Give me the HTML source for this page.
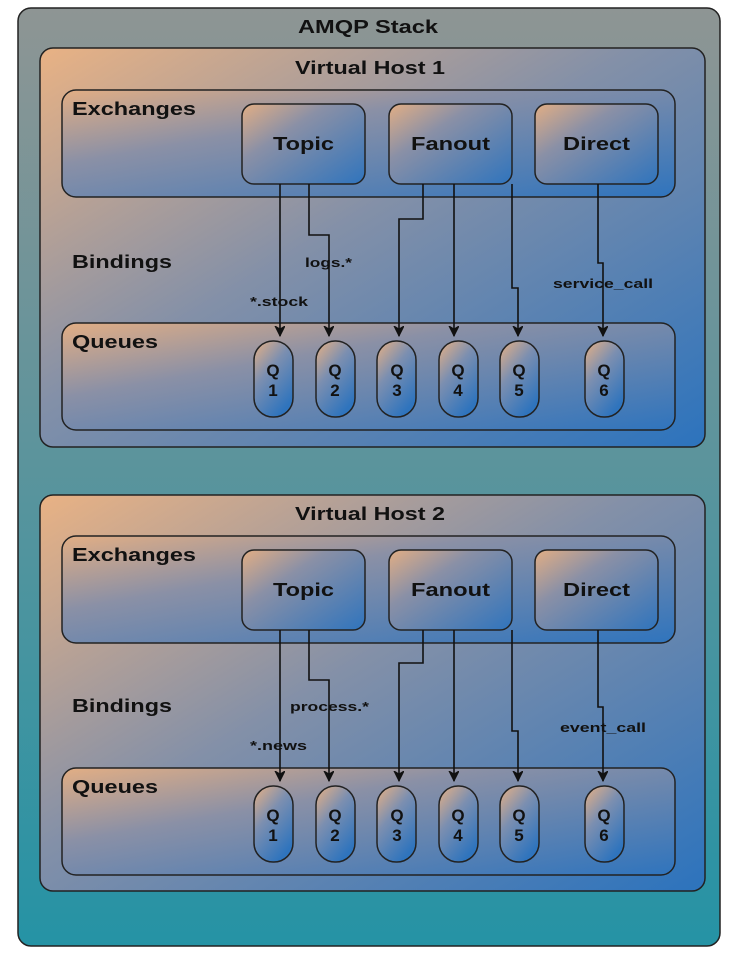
<!DOCTYPE html>
<html><head><meta charset="utf-8"><style>
html,body{margin:0;padding:0;background:#fff;}
svg{display:block;}
text{font-family:"Liberation Sans",Arial,sans-serif;font-weight:bold;fill:#111;}
</style></head><body>
<svg width="732" height="960" viewBox="0 0 732 960" xmlns="http://www.w3.org/2000/svg">
<defs>
<linearGradient id="outer" x1="0" y1="0" x2="0" y2="1">
<stop offset="0" stop-color="#8e9594"/><stop offset="1" stop-color="#2593a5"/>
</linearGradient>
<linearGradient id="vh" x1="0" y1="0" x2="1" y2="1">
<stop offset="0" stop-color="#e9b284"/><stop offset="0.45" stop-color="#8390a8"/><stop offset="1" stop-color="#2c73bd"/>
</linearGradient>
<linearGradient id="box" x1="0" y1="0" x2="1" y2="1">
<stop offset="0" stop-color="#e2ae84"/><stop offset="0.35" stop-color="#8a90a6"/><stop offset="1" stop-color="#2f74bd"/>
</linearGradient>
<linearGradient id="q" x1="0" y1="0" x2="0.6" y2="1">
<stop offset="0" stop-color="#e8b184"/><stop offset="0.45" stop-color="#7c8fb0"/><stop offset="1" stop-color="#2f74bd"/>
</linearGradient>
<marker id="ar" markerWidth="12" markerHeight="12" refX="10" refY="5" orient="auto" markerUnits="userSpaceOnUse">
<path d="M0,0 L10,5 L0,10 L3,5 Z" fill="#111" stroke="#111" stroke-width="1"/>
</marker>
</defs>
<rect x="18" y="8" width="702" height="938" rx="13" fill="url(#outer)" stroke="#222" stroke-width="1.5"/>
<text x="298" y="33" font-size="18" textLength="140" lengthAdjust="spacingAndGlyphs">AMQP Stack</text>

<g>
<rect x="40" y="48" width="665" height="399" rx="13" fill="url(#vh)" stroke="#222" stroke-width="1.5"/>
<text x="295" y="74" font-size="18" textLength="150" lengthAdjust="spacingAndGlyphs">Virtual Host 1</text>
<rect x="62" y="90" width="613" height="107" rx="14" fill="url(#box)" stroke="#222" stroke-width="1.5"/>
<text x="72" y="115" font-size="18" textLength="124" lengthAdjust="spacingAndGlyphs">Exchanges</text>
<rect x="242" y="104" width="123" height="80" rx="12" fill="url(#box)" stroke="#222" stroke-width="1.5"/>
<rect x="389" y="104" width="123" height="80" rx="12" fill="url(#box)" stroke="#222" stroke-width="1.5"/>
<rect x="535" y="104" width="123" height="80" rx="12" fill="url(#box)" stroke="#222" stroke-width="1.5"/>
<text x="273" y="150" font-size="18" textLength="61" lengthAdjust="spacingAndGlyphs">Topic</text>
<text x="411" y="150" font-size="18" textLength="79" lengthAdjust="spacingAndGlyphs">Fanout</text>
<text x="563" y="150" font-size="18" textLength="67" lengthAdjust="spacingAndGlyphs">Direct</text>
<text x="72" y="268" font-size="18" textLength="100" lengthAdjust="spacingAndGlyphs">Bindings</text>
<rect x="62" y="323" width="613" height="107" rx="14" fill="url(#box)" stroke="#222" stroke-width="1.5"/>
<text x="72" y="348" font-size="18" textLength="86" lengthAdjust="spacingAndGlyphs">Queues</text>
<g stroke="#222" stroke-width="1.5" fill="url(#q)">
<rect x="254" y="341" width="39" height="76" rx="19"/>
<rect x="316" y="341" width="39" height="76" rx="19"/>
<rect x="377" y="341" width="39" height="76" rx="19"/>
<rect x="439" y="341" width="39" height="76" rx="19"/>
<rect x="500" y="341" width="39" height="76" rx="19"/>
<rect x="585" y="341" width="39" height="76" rx="19"/>
</g>
<g font-size="17" text-anchor="middle">
<text x="273" y="376">Q</text><text x="273" y="396">1</text>
<text x="335" y="376">Q</text><text x="335" y="396">2</text>
<text x="397" y="376">Q</text><text x="397" y="396">3</text>
<text x="458" y="376">Q</text><text x="458" y="396">4</text>
<text x="519" y="376">Q</text><text x="519" y="396">5</text>
<text x="604" y="376">Q</text><text x="604" y="396">6</text>
</g>
<g fill="none" stroke="#111" stroke-width="1.6" marker-end="url(#ar)">
<path d="M280,184 V336"/>
<path d="M309,184 V235 H329 V336"/>
<path d="M423,184 V219 H399 V336"/>
<path d="M454,184 V336"/>
<path d="M512,184 V288 H518 V336"/>
<path d="M598,184 V263 H603 V336"/>
</g>
<g font-size="13">
<text x="250" y="306" textLength="58" lengthAdjust="spacingAndGlyphs">*.stock</text>
<text x="305" y="267" textLength="47" lengthAdjust="spacingAndGlyphs">logs.*</text>
<text x="553" y="288" textLength="100" lengthAdjust="spacingAndGlyphs">service_call</text>
</g>
</g>

<g transform="translate(0,446)">
<rect x="40" y="49" width="665" height="396" rx="13" fill="url(#vh)" stroke="#222" stroke-width="1.5"/>
<text x="295" y="74" font-size="18" textLength="150" lengthAdjust="spacingAndGlyphs">Virtual Host 2</text>
<rect x="62" y="90" width="613" height="107" rx="14" fill="url(#box)" stroke="#222" stroke-width="1.5"/>
<text x="72" y="115" font-size="18" textLength="124" lengthAdjust="spacingAndGlyphs">Exchanges</text>
<rect x="242" y="104" width="123" height="80" rx="12" fill="url(#box)" stroke="#222" stroke-width="1.5"/>
<rect x="389" y="104" width="123" height="80" rx="12" fill="url(#box)" stroke="#222" stroke-width="1.5"/>
<rect x="535" y="104" width="123" height="80" rx="12" fill="url(#box)" stroke="#222" stroke-width="1.5"/>
<text x="273" y="150" font-size="18" textLength="61" lengthAdjust="spacingAndGlyphs">Topic</text>
<text x="411" y="150" font-size="18" textLength="79" lengthAdjust="spacingAndGlyphs">Fanout</text>
<text x="563" y="150" font-size="18" textLength="67" lengthAdjust="spacingAndGlyphs">Direct</text>
<text x="72" y="266" font-size="18" textLength="100" lengthAdjust="spacingAndGlyphs">Bindings</text>
<rect x="62" y="322" width="613" height="107" rx="14" fill="url(#box)" stroke="#222" stroke-width="1.5"/>
<text x="72" y="347" font-size="18" textLength="86" lengthAdjust="spacingAndGlyphs">Queues</text>
<g stroke="#222" stroke-width="1.5" fill="url(#q)">
<rect x="254" y="340" width="39" height="76" rx="19"/>
<rect x="316" y="340" width="39" height="76" rx="19"/>
<rect x="377" y="340" width="39" height="76" rx="19"/>
<rect x="439" y="340" width="39" height="76" rx="19"/>
<rect x="500" y="340" width="39" height="76" rx="19"/>
<rect x="585" y="340" width="39" height="76" rx="19"/>
</g>
<g font-size="17" text-anchor="middle">
<text x="273" y="375">Q</text><text x="273" y="395">1</text>
<text x="335" y="375">Q</text><text x="335" y="395">2</text>
<text x="397" y="375">Q</text><text x="397" y="395">3</text>
<text x="458" y="375">Q</text><text x="458" y="395">4</text>
<text x="519" y="375">Q</text><text x="519" y="395">5</text>
<text x="604" y="375">Q</text><text x="604" y="395">6</text>
</g>
<g fill="none" stroke="#111" stroke-width="1.6" marker-end="url(#ar)">
<path d="M280,184 V335"/>
<path d="M309,184 V234 H329 V335"/>
<path d="M423,184 V217 H399 V335"/>
<path d="M454,184 V335"/>
<path d="M512,184 V285 H518 V335"/>
<path d="M598,184 V261 H603 V335"/>
</g>
<g font-size="13">
<text x="250" y="304" textLength="57" lengthAdjust="spacingAndGlyphs">*.news</text>
<text x="290" y="265" textLength="79" lengthAdjust="spacingAndGlyphs">process.*</text>
<text x="560" y="286" textLength="86" lengthAdjust="spacingAndGlyphs">event_call</text>
</g>
</g>
</svg>
</body></html>
